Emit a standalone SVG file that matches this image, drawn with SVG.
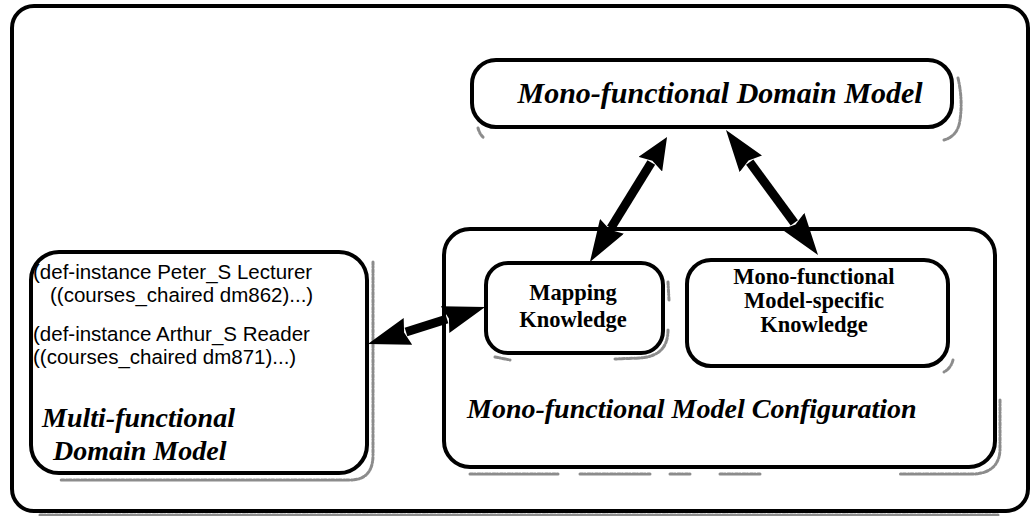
<svg xmlns="http://www.w3.org/2000/svg" width="1031" height="516" viewBox="0 0 1031 516">
  <defs>
    <style>
      .box { fill: #ffffff; stroke: #000000; stroke-width: 4; }
      .shadow { fill: none; stroke: #8c8c8c; stroke-width: 3; stroke-dasharray: 3 1.5 1 2; stroke-linecap: round; }
      .title { font-family: "Liberation Serif", "Times New Roman", serif; font-weight: bold; font-style: italic; font-size: 28px; fill: #000; }
      .title.big { font-size: 30px; }
      .label { font-family: "Liberation Serif", "Times New Roman", serif; font-weight: bold; font-size: 22.5px; fill: #000; text-anchor: middle; }
      .code { font-family: "Liberation Sans", Arial, sans-serif; font-size: 20.5px; fill: #000; }
      .link { fill: none; stroke: #000000; stroke-width: 9; }
    </style>
    <marker id="head" markerUnits="userSpaceOnUse" viewBox="0 0 42 28" refX="2" refY="14" markerWidth="42" markerHeight="28" orient="auto-start-reverse">
      <path d="M0,0 L42,14 L0,28 L4,14 Z" fill="#000"/>
    </marker>
    <marker id="headShort" markerUnits="userSpaceOnUse" viewBox="0 0 32 28" refX="2" refY="14" markerWidth="32" markerHeight="28" orient="auto-start-reverse">
      <path d="M0,0 L32,14 L0,28 L4,14 Z" fill="#000"/>
    </marker>
  </defs>

  <rect width="1031" height="516" fill="#ffffff"/>

  <!-- outer frame -->
  <g id="frame">
    <path class="shadow" d="M40,515 L1000,515"/>
    <rect class="box" x="12" y="6" width="1016" height="505" rx="22"/>
  </g>

  <!-- top: mono-functional domain model -->
  <g id="mono-domain-model">
    <path class="shadow" d="M958,78 Q963,100 960,120 Q958,136 944,140"/>
    <path class="shadow" d="M478,128 Q480,135 484,138"/>
    <rect class="box" x="472" y="60" width="480" height="67" rx="24"/>
    <text class="title big" x="720" y="103" text-anchor="middle">Mono-functional Domain Model</text>
  </g>

  <!-- multi-functional domain model -->
  <g id="multi-domain-model">
    <path class="shadow" d="M373,262 L373,455 Q373,480 350,480 L60,480"/>
    <rect class="box" x="31" y="252" width="336" height="221" rx="28"/>
    <text class="code" x="33" y="279">(def-instance Peter_S Lecturer</text>
    <text class="code" x="50" y="302">((courses_chaired dm862)...)</text>
    <text class="code" x="33" y="341">(def-instance Arthur_S Reader</text>
    <text class="code" x="33" y="364">((courses_chaired dm871)...)</text>
    <text class="title" x="42" y="427">Multi-functional</text>
    <text class="title" x="53" y="460">Domain Model</text>
  </g>

  <!-- mono-functional model configuration -->
  <g id="model-configuration">
    <path class="shadow" d="M1000,400 L1000,450 Q999,472 975,474 L900,474"/>
    <path class="shadow" d="M470,474 L560,474 M580,474 L650,474 M670,474 L690,474 M720,474 L760,474"/>
    <rect class="box" x="444" y="229" width="551" height="238" rx="26"/>
    <text class="title" x="467" y="418">Mono-functional Model Configuration</text>
  </g>

  <!-- mapping knowledge -->
  <g id="mapping-knowledge">
    <path class="shadow" d="M668,282 L669,300 M668,330 Q668,356 640,358 L615,359"/>
    <path class="shadow" d="M495,357 L510,360"/>
    <rect class="box" x="486" y="263" width="177" height="90" rx="22"/>
    <text class="label" x="573" y="300">Mapping</text>
    <text class="label" x="573" y="327">Knowledge</text>
  </g>

  <!-- mono-functional model-specific knowledge -->
  <g id="model-specific-knowledge">
    <path class="shadow" d="M953,360 Q951,368 944,372"/>
    <rect class="box" x="687" y="260" width="261" height="106" rx="24"/>
    <text class="label" x="814" y="284">Mono-functional</text>
    <text class="label" x="814" y="308">Model-specific</text>
    <text class="label" x="814" y="332">Knowledge</text>
  </g>

  <!-- connectors -->
  <g id="connectors">
    <line class="link" x1="406" y1="332" x2="447" y2="319" marker-start="url(#head)" marker-end="url(#head)"/>
    <line class="link" x1="651.3" y1="162.5" x2="610.9" y2="228" marker-start="url(#headShort)" marker-end="url(#head)"/>
    <line class="link" x1="749.7" y1="162.2" x2="794.3" y2="222.8" marker-start="url(#head)" marker-end="url(#head)"/>
  </g>
</svg>
